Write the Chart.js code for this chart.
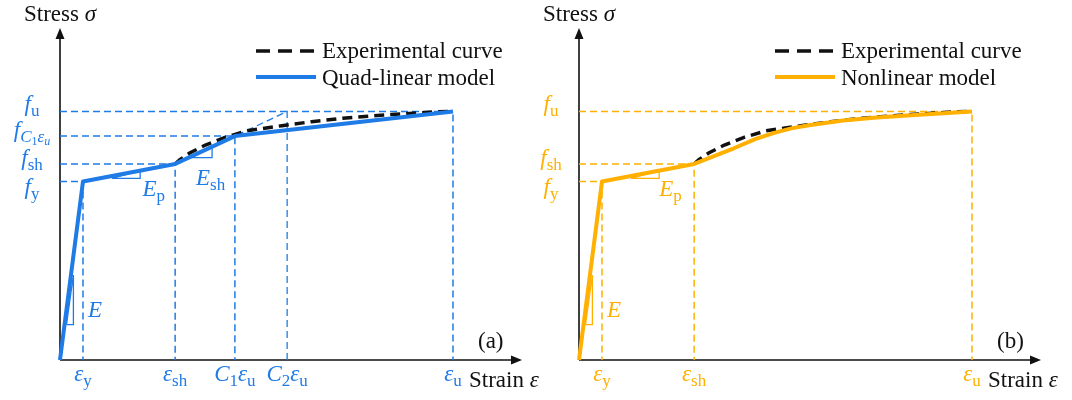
<!DOCTYPE html>
<html lang="en">
<head>
<meta charset="UTF-8">
<title>Stress-strain models</title>
<script src="https://cdn.jsdelivr.net/npm/chart.js@4"></script>
<style>
  html, body { margin: 0; padding: 0; background: #fff; }
  #wrap { position: relative; width: 1072px; height: 400px; overflow: hidden; }
  .panel { position: absolute; top: 0; }
  #panelA { left: 0; }
  #panelB { left: 519px; }
</style>
</head>
<body>
<div id="wrap">
  <canvas id="panelA" class="panel" width="553" height="400"></canvas>
  <canvas id="panelB" class="panel" width="553" height="400"></canvas>
</div>
<script>
// strain in % of eps_u, stress in % of f_u
const quadStrain = [0, 5.85, 29.3, 44.5, 100];
const quadStress = [0, 71.8, 78.9, 90.1, 100];
const c2Strain = 57.8;

const expStrain = [29.3, 30.5, 33, 37, 42, 47.5, 56.5, 64, 72, 84.5, 95, 100];
const expStress = [78.9, 80.6, 83.3, 86.5, 89.6, 92.2, 94.3, 95.9, 97.3, 98.8, 99.8, 100];

const nonlinStrain = [0, 5.85, 29.3, 39.4, 45, 49.9, 54, 58.5, 67.2, 75.8, 84.5, 100];
const nonlinStress = [0, 71.8, 78.9, 85.2, 89.0, 91.5, 93.2, 94.5, 96.4, 97.6, 98.5, 100];

// small slope triangles (strain, stress)
const triE = [[1.65, 14.2], [3.41, 14.2], [3.41, 34.2]];
const triEp = [[13.2, 73.1], [20.4, 73.1], [20.4, 76.2]];
const triEsh = [[32.6, 81.4], [38.7, 81.4], [38.7, 85.9]];

// tick labels: [text, kind] where kind = size (m/s/ss) + style (i/r)
const strainTicksA = [5.85, 29.3, 44.5, 57.8, 100];
const strainLabelsA = [
  [['ε', 'mi'], ['y', 'sr']],
  [['ε', 'mi'], ['sh', 'sr']],
  [['C', 'mi'], ['1', 'sr'], ['ε', 'mi'], ['u', 'sr']],
  [['C', 'mi'], ['2', 'sr'], ['ε', 'mi'], ['u', 'sr']],
  [['ε', 'mi'], ['u', 'sr']]
];
const stressTicksA = [71.8, 78.9, 90.1, 100];
const stressLabelsA = [
  [['f', 'mi'], ['y', 'sr']],
  [['f', 'mi'], ['sh', 'sr']],
  [['f', 'mi'], ['C', 'si'], ['1', 'ssr'], ['ε', 'si'], ['u', 'ssi']],
  [['f', 'mi'], ['u', 'sr']]
];
const strainTicksB = [5.85, 29.3, 100];
const strainLabelsB = [
  [['ε', 'mi'], ['y', 'sr']],
  [['ε', 'mi'], ['sh', 'sr']],
  [['ε', 'mi'], ['u', 'sr']]
];
const stressTicksB = [71.8, 78.9, 100];
const stressLabelsB = [
  [['f', 'mi'], ['y', 'sr']],
  [['f', 'mi'], ['sh', 'sr']],
  [['f', 'mi'], ['u', 'sr']]
];

const BLUE = '#1f7be6';
const ORANGE = '#ffb000';
const FONT = '"Liberation Serif", "Times New Roman", serif';

const SIZES = { m: 23, s: 17, ss: 12 };
const RISE = { m: 0, s: 5, ss: 8 };

function fontOf(kind) {
  const level = kind.slice(0, -1), style = kind.slice(-1);
  return (style === 'i' ? 'italic ' : '') + SIZES[level] + 'px ' + FONT;
}

function drawRich(ctx, parts, x, y, align) {
  let w = 0;
  parts.forEach(([t, k]) => { ctx.font = fontOf(k); w += ctx.measureText(t).width; });
  let cx = align === 'center' ? x - w / 2 : align === 'right' ? x - w : x;
  parts.forEach(([t, k]) => {
    ctx.font = fontOf(k);
    ctx.fillText(t, cx, y + RISE[k.slice(0, -1)]);
    cx += ctx.measureText(t).width;
  });
}

const pts = (xs, ys) => xs.map((v, i) => ({ x: v, y: ys[i] }));

function guide(e, f, color) {
  return {
    data: [{ x: 0, y: f }, { x: e, y: f }, { x: e, y: 0 }],
    borderColor: color, borderWidth: 1.5, borderDash: [7, 4],
    showLine: true, pointRadius: 0, clip: false, order: 3
  };
}

function tri(list, color) {
  const d = list.concat([list[0]]).map(([a, b]) => ({ x: a, y: b }));
  return { data: d, borderColor: color, borderWidth: 1.3, showLine: true, pointRadius: 0, clip: false, order: 2 };
}

function makeDecor(cfg) {
  return {
    id: 'decor',
    beforeDatasetsDraw(chart) {
      const { ctx, chartArea: a, scales: { x, y } } = chart;
      const x0 = x.getPixelForValue(0), y0 = y.getPixelForValue(0);
      ctx.save();
      ctx.strokeStyle = '#111';
      ctx.fillStyle = '#111';
      ctx.lineWidth = 1.6;
      ctx.beginPath();
      ctx.moveTo(x0, y0); ctx.lineTo(a.right - 8, y0);
      ctx.moveTo(x0, y0); ctx.lineTo(x0, a.top + 8);
      ctx.stroke();
      // arrow heads
      ctx.beginPath();
      ctx.moveTo(a.right, y0); ctx.lineTo(a.right - 11, y0 - 4.5); ctx.lineTo(a.right - 11, y0 + 4.5);
      ctx.closePath(); ctx.fill();
      ctx.beginPath();
      ctx.moveTo(x0, a.top); ctx.lineTo(x0 - 4.5, a.top + 11); ctx.lineTo(x0 + 4.5, a.top + 11);
      ctx.closePath(); ctx.fill();
      ctx.restore();
    },
    afterDatasetsDraw(chart) {
      const { ctx, chartArea: a, scales: { x, y } } = chart;
      const x0 = x.getPixelForValue(0), y0 = y.getPixelForValue(0);
      ctx.save();
      ctx.textAlign = 'left';
      ctx.textBaseline = 'alphabetic';

      // tick labels
      ctx.fillStyle = cfg.color;
      cfg.strainTicks.forEach((v, i) => {
        drawRich(ctx, cfg.strainLabels[i], x.getPixelForValue(v), y0 + 21, 'center');
      });
      cfg.stressTicks.forEach((v, i) => {
        drawRich(ctx, cfg.stressLabels[i], x0 - 28, y.getPixelForValue(v) + cfg.stressShift[i], 'center');
      });

      // slope labels
      cfg.slopeLabels.forEach(([parts, sx, sy]) => {
        drawRich(ctx, parts, x.getPixelForValue(sx), y.getPixelForValue(sy), 'left');
      });

      // axis titles and panel tag
      ctx.fillStyle = '#111';
      ctx.font = '23px ' + FONT;
      ctx.fillText('Stress ', x0 - 36, 21);
      let w = ctx.measureText('Stress ').width;
      ctx.font = 'italic 23px ' + FONT;
      ctx.fillText('σ', x0 - 36 + w, 21);

      ctx.font = '23px ' + FONT;
      ctx.fillText('Strain ', a.right - 53, y0 + 27);
      w = ctx.measureText('Strain ').width;
      ctx.font = 'italic 23px ' + FONT;
      ctx.fillText('ε', a.right - 53 + w, y0 + 27);

      ctx.font = '23px ' + FONT;
      ctx.fillText(cfg.tag, a.right - 44, y0 - 12);

      // legend
      const lx = x0 + 196, ly = 51;
      ctx.lineWidth = 3.5;
      ctx.strokeStyle = '#111';
      ctx.setLineDash([14, 8]);
      ctx.beginPath(); ctx.moveTo(lx, ly); ctx.lineTo(lx + 60, ly); ctx.stroke();
      ctx.setLineDash([]);
      ctx.lineWidth = 4;
      ctx.strokeStyle = cfg.color;
      ctx.beginPath(); ctx.moveTo(lx, ly + 26); ctx.lineTo(lx + 60, ly + 26); ctx.stroke();
      ctx.font = '23px ' + FONT;
      ctx.fillStyle = '#111';
      ctx.fillText('Experimental curve', lx + 66, ly + 7);
      ctx.fillText(cfg.modelName, lx + 66, ly + 34);
      ctx.restore();
    }
  };
}

function makePanel(id, cfg) {
  new Chart(document.getElementById(id), {
    type: 'scatter',
    data: { datasets: cfg.datasets },
    options: {
      responsive: false,
      animation: false,
      events: [],
      layout: { padding: { left: 60, right: 31, top: 28, bottom: 40 } },
      plugins: { legend: { display: false }, tooltip: { enabled: false } },
      scales: {
        x: { type: 'linear', min: 0, max: 117.56, display: false },
        y: { type: 'linear', min: 0, max: 133.6, display: false }
      }
    },
    plugins: [makeDecor(cfg)]
  });
}

const expData = pts(expStrain, expStress);

// (a) quad-linear model
const guidesA = [1, 2, 3, 4].map(i => guide(quadStrain[i], quadStress[i], BLUE));
guidesA.push({
  data: [{ x: c2Strain, y: 0 }, { x: c2Strain, y: quadStress[4] }, { x: quadStrain[3], y: quadStress[3] }],
  borderColor: BLUE, borderWidth: 1.3, borderDash: [7, 4],
  showLine: true, pointRadius: 0, clip: false, order: 3
});

makePanel('panelA', {
  color: BLUE,
  tag: '(a)',
  modelName: 'Quad-linear model',
  strainTicks: strainTicksA, strainLabels: strainLabelsA,
  stressTicks: stressTicksA, stressLabels: stressLabelsA,
  stressShift: [12, 1, 1, 0],
  slopeLabels: [
    [[['E', 'mi']], 7.1, 17.3],
    [[['E', 'mi'], ['p', 'sr']], 21.0, 66.0],
    [[['E', 'mi'], ['sh', 'sr']], 34.6, 70.6]
  ],
  datasets: [
    { data: pts(quadStrain, quadStress), borderColor: BLUE, borderWidth: 4, showLine: true,
      pointRadius: 0, clip: false, order: 0, borderJoinStyle: 'round' },
    { data: expData, borderColor: '#111', borderWidth: 3.5, borderDash: [10, 6], showLine: true,
      pointRadius: 0, clip: false, order: 1 },
    tri(triE, BLUE), tri(triEp, BLUE), tri(triEsh, BLUE),
    ...guidesA
  ]
});

// (b) nonlinear model
const lastB = nonlinStrain.length - 1;
const guidesB = [1, 2, lastB].map(i => guide(nonlinStrain[i], nonlinStress[i], ORANGE));

makePanel('panelB', {
  color: ORANGE,
  tag: '(b)',
  modelName: 'Nonlinear model',
  strainTicks: strainTicksB, strainLabels: strainLabelsB,
  stressTicks: stressTicksB, stressLabels: stressLabelsB,
  stressShift: [12, 1, 0],
  slopeLabels: [
    [[['E', 'mi']], 7.1, 17.3],
    [[['E', 'mi'], ['p', 'sr']], 20.4, 66.0]
  ],
  datasets: [
    { data: pts(nonlinStrain, nonlinStress), borderColor: ORANGE, borderWidth: 4, showLine: true,
      pointRadius: 0, clip: false, order: 0, borderJoinStyle: 'round' },
    { data: expData, borderColor: '#111', borderWidth: 3.5, borderDash: [10, 6], showLine: true,
      pointRadius: 0, clip: false, order: 1 },
    tri(triE, ORANGE), tri(triEp, ORANGE),
    ...guidesB
  ]
});
</script>
</body>
</html>
